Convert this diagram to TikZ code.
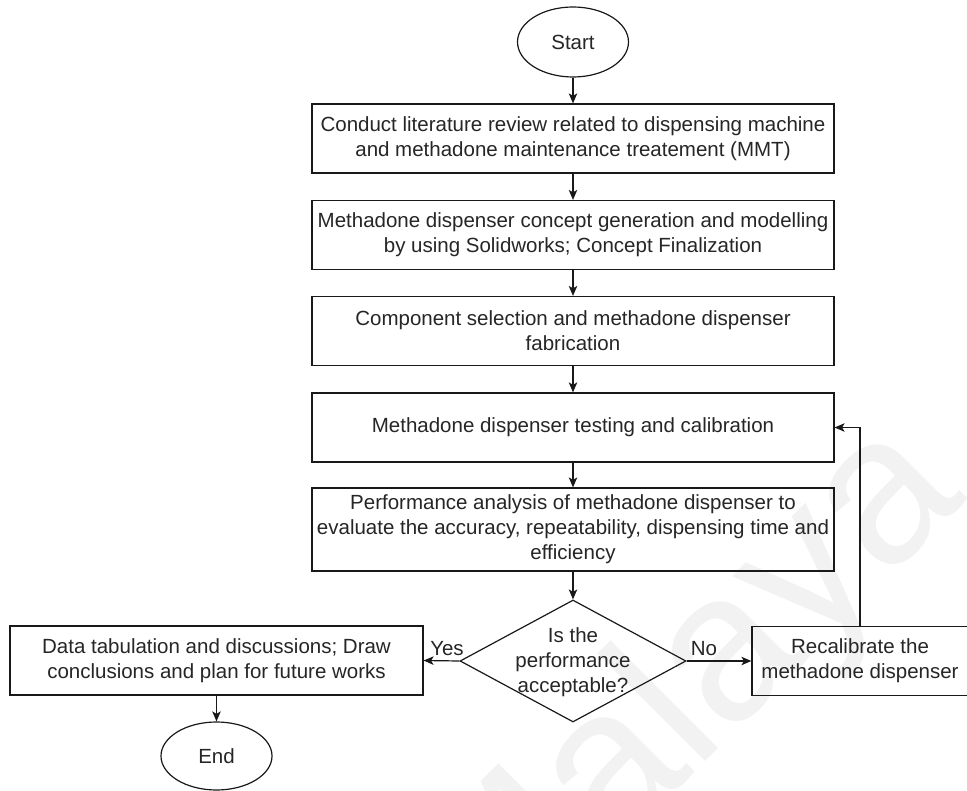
\documentclass[tikz,border=0pt]{standalone}
\usepackage{fontspec}
\setmainfont{Liberation Sans}
\usetikzlibrary{shapes.geometric,arrows.meta}
\begin{document}
\begin{tikzpicture}[x=1pt,y=-1pt,
  every node/.style={font=\fontsize{20.5}{25}\selectfont, text=black!85},
  proc/.style={draw=black!90, line width=1.2pt, rectangle, align=center,
               minimum height=69pt, inner sep=0pt},
  term/.style={draw=black!90, line width=1.2pt, ellipse, minimum width=111pt,
               minimum height=70pt, inner sep=0pt},
  decision/.style={draw=black!90, line width=1.2pt, diamond, minimum width=226pt,
               minimum height=122pt, inner sep=0pt},
  flow/.style={draw=black!90, line width=1.2pt,
               -{Stealth[length=10pt,width=8.5pt,inset=2.5pt]}},
  edgelbl/.style={inner sep=0pt},
  wmark/.style={font=\fontsize{210}{210}\selectfont, text=black!5, rotate=45}
]
\useasboundingbox (0,0) rectangle (967,791);
\fill[white] (0,0) rectangle (967,791);

% faint background watermark
\node[wmark] (wm) at (690,700) {Malaya};

% main column
\node[term] (start) at (573,42) {Start};
\node[proc, minimum width=522pt] (b1) at (573,138.5)
  {Conduct literature review related to dispensing machine\\and methadone maintenance treatement (MMT)};
\node[proc, minimum width=522pt] (b2) at (573,235)
  {Methadone dispenser concept generation and modelling\\by using Solidworks; Concept Finalization};
\node[proc, minimum width=522pt] (b3) at (573,331)
  {Component selection and methadone dispenser\\fabrication};
\node[proc, minimum width=522pt] (b4) at (573,427.5)
  {Methadone dispenser testing and calibration};
\node[proc, minimum width=522pt, minimum height=83pt] (b5) at (573,529.5)
  {Performance analysis of methadone dispenser to\\evaluate the accuracy, repeatability, dispensing time and\\efficiency};
\node[decision] (dec) at (573,661) {};
\node[align=center, inner sep=0pt] (dectext) at (573,662)
  {Is the\\performance\\acceptable?};

% side branches
\node[proc, minimum width=216pt] (recal) at (860,661)
  {Recalibrate the\\methadone dispenser};
\node[proc, minimum width=413pt] (data) at (216.5,660.5)
  {Data tabulation and discussions; Draw\\conclusions and plan for future works};
\node[term, minimum height=68pt] (end) at (216.5,756) {End};

% connectors
\draw[flow] (start) -- (b1);
\draw[flow] (b1) -- (b2);
\draw[flow] (b2) -- (b3);
\draw[flow] (b3) -- (b4);
\draw[flow] (b4) -- (b5);
\draw[flow] (b5) -- (dec);
\draw[flow] (dec.west) -- (data.east);
\draw[flow] (dec.east) -- (recal.west);
\draw[flow] (recal.north) |- (b4.east);
\draw[flow] (data) -- (end);

% edge labels
\node[edgelbl] (yes) at (447,649) {Yes};
\node[edgelbl] (no) at (704,649) {No};
\end{tikzpicture}
\end{document}
